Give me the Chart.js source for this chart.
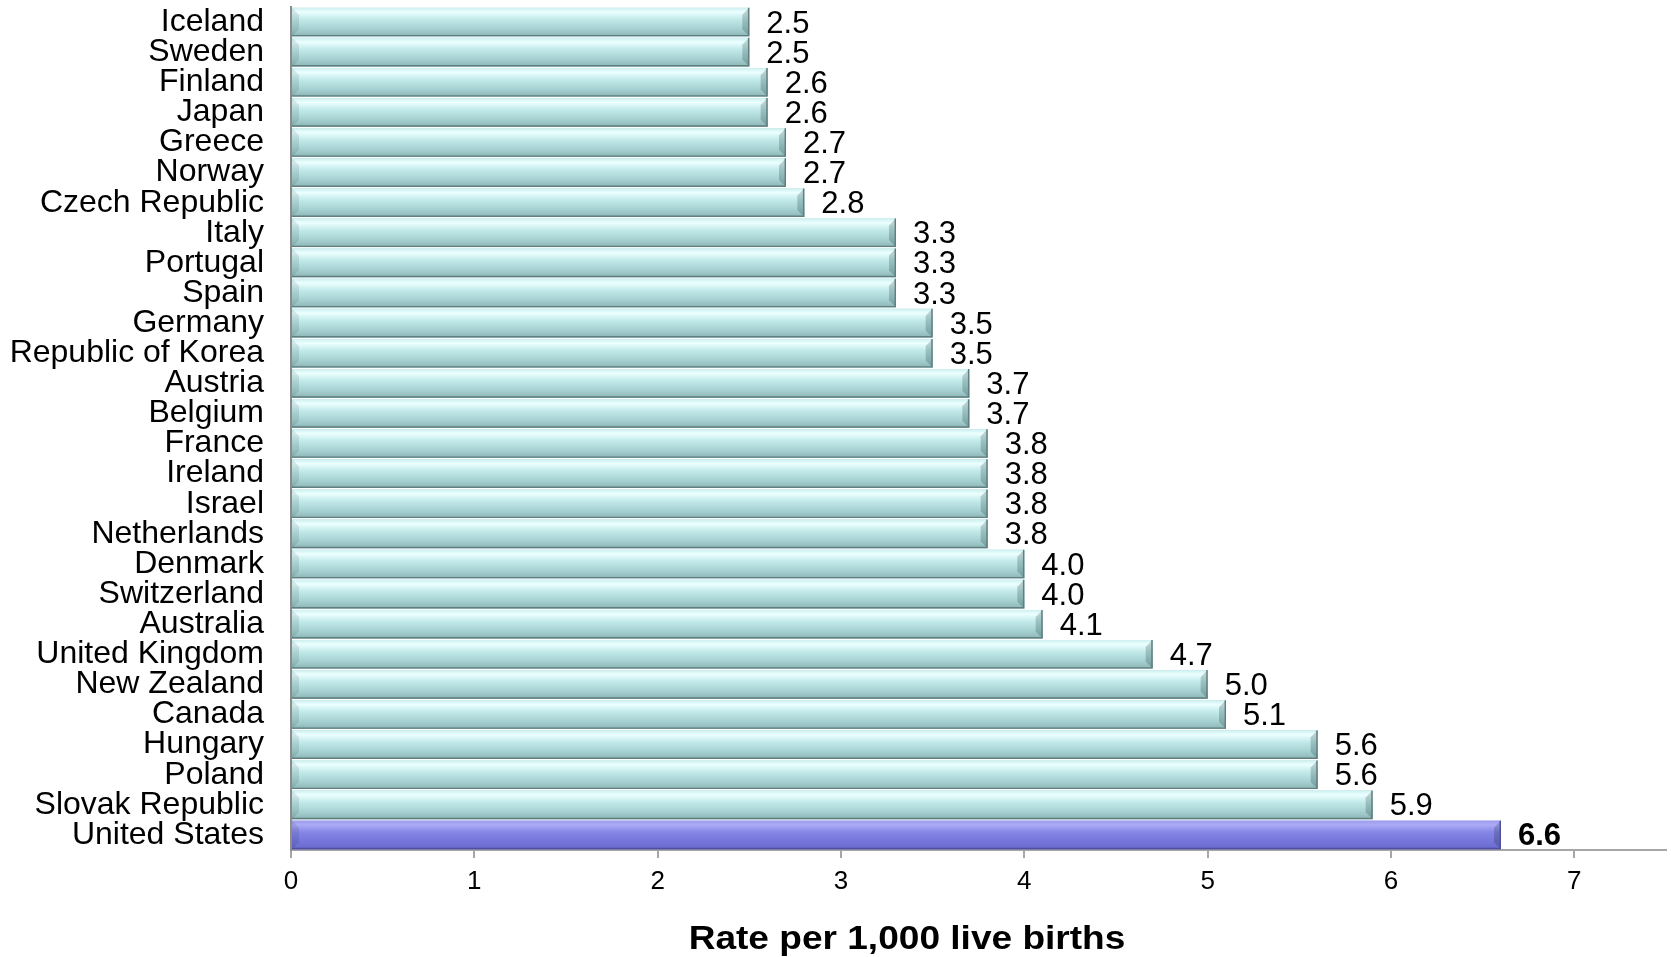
<!DOCTYPE html>
<html>
<head>
<meta charset="utf-8">
<script src="https://cdn.jsdelivr.net/npm/chart.js@4.4.1/dist/chart.umd.min.js"></script>
<style>
  body { margin: 0; background: #fff; }
  #wrap { width: 1671px; height: 957px; position: relative; }
</style>
</head>
<body>
<div id="wrap"><canvas id="rates"></canvas></div>
<script>
const countries = ['Iceland', 'Sweden', 'Finland', 'Japan', 'Greece', 'Norway', 'Czech Republic',
  'Italy', 'Portugal', 'Spain', 'Germany', 'Republic of Korea', 'Austria', 'Belgium', 'France',
  'Ireland', 'Israel', 'Netherlands', 'Denmark', 'Switzerland', 'Australia', 'United Kingdom',
  'New Zealand', 'Canada', 'Hungary', 'Poland', 'Slovak Republic', 'United States'];
const rates = [2.5, 2.5, 2.6, 2.6, 2.7, 2.7, 2.8, 3.3, 3.3, 3.3, 3.5, 3.5, 3.7, 3.7, 3.8,
  3.8, 3.8, 3.8, 4.0, 4.0, 4.1, 4.7, 5.0, 5.1, 5.6, 5.6, 5.9, 6.6];
const xTicks = [0, 1, 2, 3, 4, 5, 6, 7];
const highlight = 'United States';

const font = '"Liberation Sans", Arial, sans-serif';
const tealFill = '#b0dcdd';
const purpleFill = '#7878e0';

// shading so the bars look like the bevelled office bars
const bevelBars = {
  id: 'bevelBars',
  afterDatasetsDraw(chart) {
    const ctx = chart.ctx;
    const meta = chart.getDatasetMeta(0);
    meta.data.forEach((bar, i) => {
      const p = bar.getProps(['x', 'y', 'base', 'height'], true);
      const left = Math.min(p.base, p.x), right = Math.max(p.base, p.x);
      const top = p.y - p.height / 2, bottom = p.y + p.height / 2;
      const us = countries[i] === highlight;
      const g = ctx.createLinearGradient(0, top, 0, bottom);
      if (us) {
        g.addColorStop(0, '#9c9cec');
        g.addColorStop(0.15, '#ababf6');
        g.addColorStop(0.4, '#8686e6');
        g.addColorStop(0.75, '#7474da');
        g.addColorStop(1, '#6868cc');
      } else {
        g.addColorStop(0, '#cdeff0');
        g.addColorStop(0.15, '#ecffff');
        g.addColorStop(0.4, '#c3eaea');
        g.addColorStop(0.75, '#a5d0d1');
        g.addColorStop(1, '#8db4b5');
      }
      ctx.save();
      ctx.fillStyle = g;
      ctx.fillRect(left, top, right - left, bottom - top);
      const b = 7;
      // left band
      ctx.fillStyle = 'rgba(0,30,30,0.10)';
      ctx.beginPath();
      ctx.moveTo(left, top); ctx.lineTo(left + b, top + b);
      ctx.lineTo(left + b, bottom - b); ctx.lineTo(left, bottom);
      ctx.closePath(); ctx.fill();
      // right band
      ctx.fillStyle = 'rgba(0,30,30,0.20)';
      ctx.beginPath();
      ctx.moveTo(right, top); ctx.lineTo(right - b, top + b);
      ctx.lineTo(right - b, bottom - b); ctx.lineTo(right, bottom);
      ctx.closePath(); ctx.fill();
      // edges
      ctx.strokeStyle = us ? '#50509a' : '#5f7f80';
      ctx.lineWidth = 1.4;
      ctx.beginPath();
      ctx.moveTo(left, bottom - 0.7); ctx.lineTo(right - 0.7, bottom - 0.7);
      ctx.lineTo(right - 0.7, top);
      ctx.stroke();
      ctx.restore();

      // value label
      ctx.save();
      ctx.fillStyle = '#000';
      ctx.font = (us ? 'bold ' : '') + '31px ' + font;
      ctx.textBaseline = 'middle';
      ctx.textAlign = 'left';
      ctx.fillText(rates[i].toFixed(1), right + 17, p.y + 2);
      ctx.restore();
    });
  }
};

const axisTitle = {
  id: 'axisTitle',
  afterDraw(chart) {
    const ctx = chart.ctx;
    const a = chart.chartArea;
    ctx.save();
    ctx.fillStyle = '#000';
    ctx.font = 'bold 34px ' + font;
    ctx.textAlign = 'center';
    ctx.textBaseline = 'middle';
    ctx.translate(a.left + (a.right - a.left) * 0.448, 940);
    ctx.scale(1.09, 1);
    ctx.fillText('Rate per 1,000 live births', 0, 0);
    ctx.restore();
  }
};

const ctx = document.getElementById('rates').getContext('2d');
const rateChart = new Chart(ctx, {
  type: 'bar',
  data: {
    labels: countries,
    datasets: [{
      data: rates,
      backgroundColor: countries.map(c => c === highlight ? purpleFill : tealFill),
      borderWidth: 0,
      barPercentage: 0.95,
      categoryPercentage: 1
    }]
  },
  options: {
    indexAxis: 'y',
    responsive: true,
    maintainAspectRatio: false,
    animation: false,
    layout: { padding: { top: 7, right: 5, left: 0, bottom: 0 } },
    plugins: {
      legend: { display: false },
      tooltip: { enabled: false }
    },
    scales: {
      x: {
        min: 0,
        max: 7.5,
        afterBuildTicks: (scale) => {
          scale.ticks = xTicks.map(v => ({ value: v }));
        },
        afterFit: (scale) => { scale.height = 107; },
        ticks: {
          color: '#000',
          padding: 8,
          font: { family: font, size: 26 },
          maxRotation: 0
        },
        grid: {
          drawOnChartArea: false,
          drawTicks: true,
          tickLength: 8,
          color: '#a6a6a6',
          lineWidth: 2
        },
        border: { color: '#a6a6a6', width: 2 }
      },
      y: {
        afterFit: (scale) => {
          scale.width = 291;
          scale.paddingTop = 0;
          scale.paddingBottom = 0;
        },
        ticks: {
          color: '#000',
          padding: 27,
          autoSkip: false,
          font: { family: font, size: 32 }
        },
        grid: { drawOnChartArea: false, drawTicks: false },
        border: { color: '#8c8c8c', width: 2 }
      }
    }
  },
  plugins: [bevelBars, axisTitle]
});
</script>
</body>
</html>
